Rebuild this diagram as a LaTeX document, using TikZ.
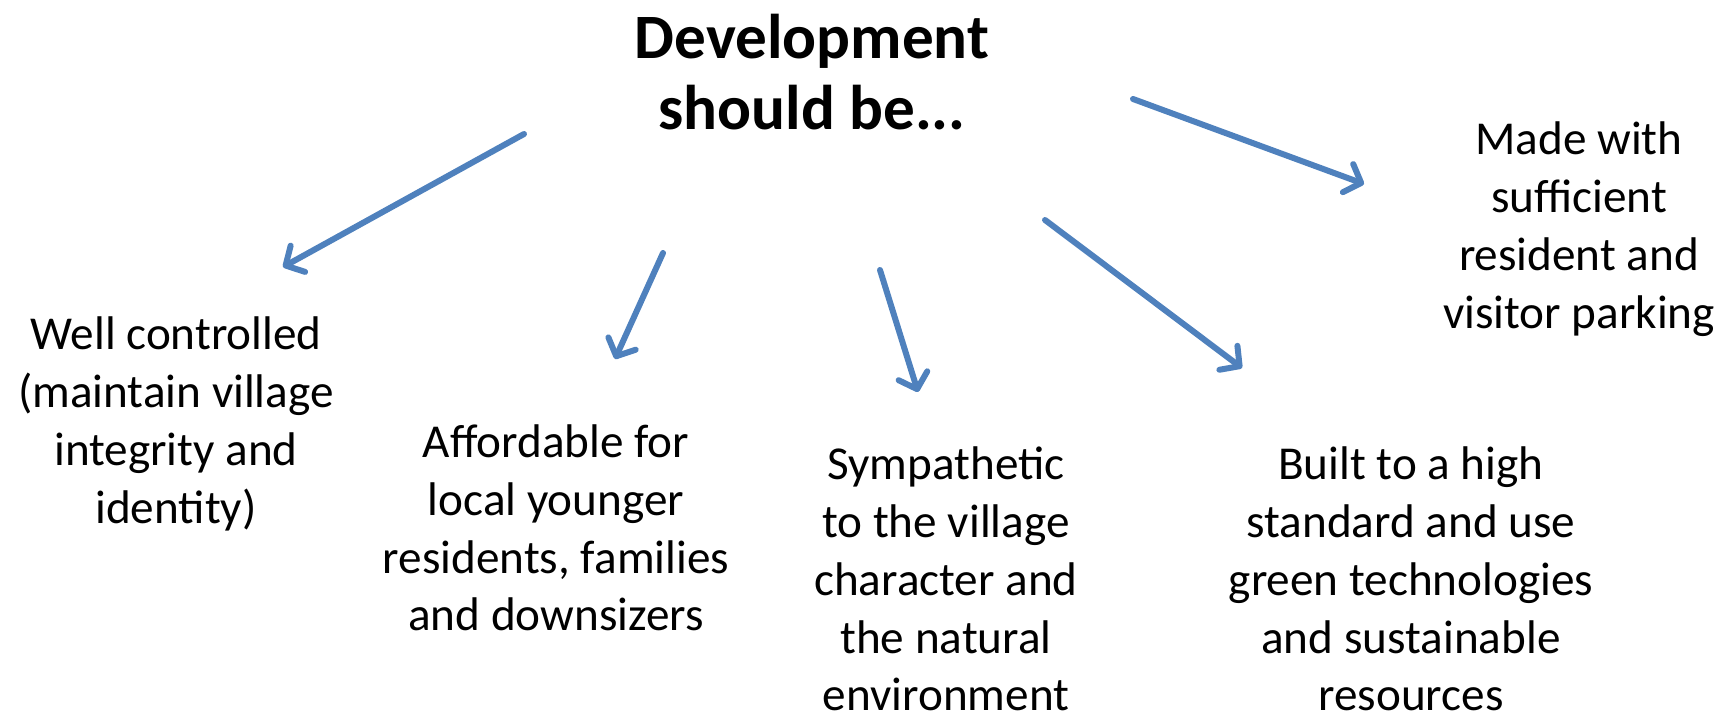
\documentclass[tikz,border=0pt]{standalone}
\usepackage{fontspec}
\setmainfont{Carlito}
\usetikzlibrary{arrows.meta}

\definecolor{arrowblue}{RGB}{79,129,189}

\tikzset{every picture/.style={line width=0.75pt}}
\tikzset{
  headtext/.style={align=center, inner sep=0pt, font=\bfseries\fontsize{31.6}{35.5}\selectfont},
  itemtext/.style={align=center, inner sep=0pt, font=\fontsize{23.6}{28.9}\selectfont},
  pointer/.style={draw=arrowblue, line width=3pt, line cap=round,
    -{Straight Barb[length=7pt,width=15pt,line cap=round,line join=round]}}
}

\begin{document}
\begin{tikzpicture}[x=0.5pt,y=0.5pt,yscale=-1,xscale=1]
	\useasboundingbox (0,0) rectangle (1725,715); %set diagram to 1725 by 715
	
	% Text Node
	\node[headtext] (title) at (812,72) {Development\\should be...};
	% Text Node
	\node[itemtext] (control) at (176,424) {Well controlled\\(maintain village\\integrity and\\identity)};
	% Text Node
	\node[itemtext] (afford) at (556,528) {Affordable for\\local younger\\residents, families\\and downsizers};
	% Text Node
	\node[itemtext] (sympa) at (946,579) {Sympathetic\\to the village\\character and\\the natural\\environment};
	% Text Node
	\node[itemtext] (built) at (1411,579) {Built to a high\\standard and use\\green technologies\\and sustainable\\resources};
	% Text Node
	\node[itemtext] (parking) at (1579,229) {Made with\\sufficient\\resident and\\visitor parking};
	
	%Straight Lines
	\coordinate (a1s) at (524,134);
	\coordinate (a1e) at (283,267);
	\draw[pointer] (a1s) -- (a1e);
	%Straight Lines
	\coordinate (a2s) at (663,253);
	\coordinate (a2e) at (615,359);
	\draw[pointer] (a2s) -- (a2e);
	%Straight Lines
	\coordinate (a3s) at (880,270);
	\coordinate (a3e) at (918,392);
	\draw[pointer] (a3s) -- (a3e);
	%Straight Lines
	\coordinate (a4s) at (1045,220);
	\coordinate (a4e) at (1242,368);
	\draw[pointer] (a4s) -- (a4e);
	%Straight Lines
	\coordinate (a5s) at (1133,99);
	\coordinate (a5e) at (1364,184);
	\draw[pointer] (a5s) -- (a5e);
	
\end{tikzpicture}
\end{document}
